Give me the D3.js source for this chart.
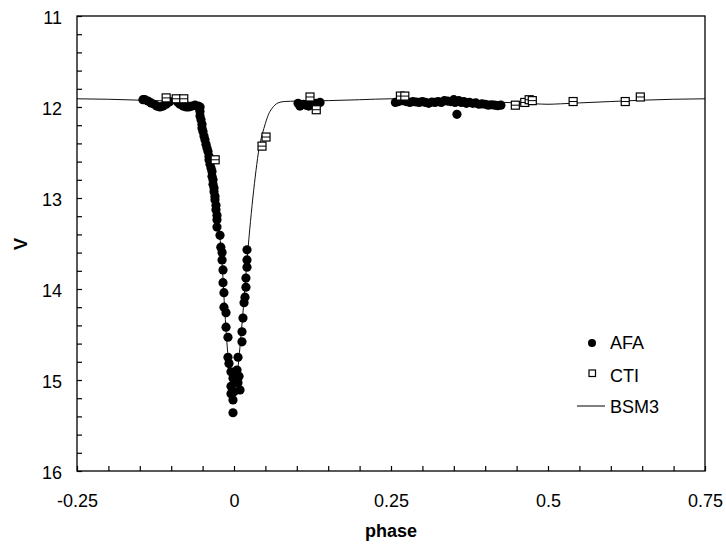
<!DOCTYPE html>
<html>
<head>
<meta charset="utf-8">
<script src="https://cdn.jsdelivr.net/npm/d3@7"></script>
<style>
  html, body { margin: 0; padding: 0; background: #fff; }
  svg { display: block; font-family: Arial, "Liberation Sans", sans-serif; }
</style>
</head>
<body>
<svg id="chart" width="726" height="546"></svg>
<script>
// ---------------- DATA ----------------
const xTickLabels = ["-0.25", "0", "0.25", "0.5", "0.75"];
const xTickValues = [-0.25, 0, 0.25, 0.5, 0.75];
const yTickValues = [11, 12, 13, 14, 15, 16];

// AFA photometry (filled circles)
const afaPhase = [
  -0.145, -0.142, -0.137, -0.132, -0.127, -0.123, -0.118, -0.113, -0.108, -0.105, -0.102,
  -0.089, -0.086, -0.081, -0.076, -0.072, -0.067, -0.062, -0.057, -0.054,
  -0.0557, -0.0541, -0.0541, -0.0525, -0.051, -0.051, -0.0494, -0.0478, -0.0462, -0.0446,
  -0.043, -0.0414, -0.0398, -0.0398, -0.0382, -0.0366, -0.035, -0.035, -0.0334, -0.0334,
  -0.0318, -0.0318, -0.0303, -0.0303, -0.0287, -0.0287, -0.0271, -0.0271, -0.0271,
  -0.0223, -0.021, -0.019, -0.019, -0.0175, -0.0175, -0.016, -0.016, -0.0127, -0.0127,
  -0.0096, -0.0096,
  -0.008, -0.0048, -0.0016, 0.0016, -0.0048, 0.0032, 0.0064, 0.0, -0.0048, -0.0016, 0.008, 0.0096, -0.0016,
  0.0207, 0.0207, 0.0207, 0.019, 0.019, 0.0175, 0.016, 0.0143, 0.0127, 0.0127, 0.0064, 0.0048,
  0.102, 0.105, 0.110, 0.115, 0.119, 0.124, 0.131, 0.137,
  0.257, 0.262, 0.268, 0.274, 0.280, 0.285, 0.290, 0.295, 0.300, 0.305, 0.310, 0.315, 0.320,
  0.325, 0.330, 0.335, 0.340, 0.345, 0.350, 0.352, 0.355, 0.358, 0.362, 0.366, 0.370, 0.375,
  0.380, 0.385, 0.390, 0.395, 0.400, 0.405, 0.410, 0.415, 0.420, 0.425
];
const afaV = [
  11.92, 11.92, 11.935, 11.955, 11.97, 11.99, 12.0, 11.99, 11.97, 11.95, 11.94,
  11.95, 11.97, 11.99, 12.0, 12.0, 11.99, 11.98, 11.99, 12.0,
  12.01, 12.05, 12.10, 12.14, 12.19, 12.23, 12.27, 12.32, 12.36, 12.41,
  12.45, 12.49, 12.54, 12.58, 12.63, 12.67, 12.71, 12.76, 12.80, 12.85,
  12.89, 12.93, 12.98, 13.02, 13.08, 13.13, 13.19, 13.24, 13.32,
  13.41, 13.54, 13.60, 13.68, 13.79, 13.93, 14.04, 14.20, 14.26, 14.42,
  14.53, 14.75,
  14.82, 14.91, 14.98, 14.95, 15.07, 15.0, 15.03, 15.13, 15.15, 15.22, 14.96, 15.11, 15.36,
  13.57, 13.68, 13.76, 13.88, 13.98, 14.09, 14.15, 14.32, 14.47, 14.58, 14.75, 14.89,
  11.96, 11.99, 11.97, 11.98, 11.99, 11.97, 11.96, 11.95,
  11.95, 11.94, 11.93, 11.94, 11.95, 11.94, 11.945, 11.95, 11.94, 11.95, 11.96, 11.945, 11.95,
  11.94, 11.95, 11.93, 11.935, 11.94, 11.92, 11.95, 12.08, 11.93, 11.95, 11.94, 11.96, 11.95,
  11.96, 11.955, 11.97, 11.965, 11.97, 11.98, 11.975, 11.98, 11.985, 11.98
];

// CTI photometry (open squares)
const ctiPhase = [-0.108, -0.092, -0.080, -0.030, 0.0446, 0.051, 0.121, 0.131, 0.265, 0.272,
                  0.448, 0.463, 0.470, 0.475, 0.540, 0.623, 0.647];
const ctiV = [11.90, 11.91, 11.91, 12.58, 12.43, 12.33, 11.89, 12.03, 11.88, 11.88,
              11.98, 11.95, 11.92, 11.93, 11.94, 11.94, 11.89];

// BSM3 model light curve
const modelPhase = [-0.25, -0.2, -0.15, -0.1, -0.08, -0.07, -0.062, -0.058, -0.055, -0.05,
  -0.045, -0.04, -0.035, -0.03, -0.025, -0.02, -0.015, -0.01, -0.005, 0.0,
  0.005, 0.01, 0.015, 0.02, 0.025, 0.03, 0.035, 0.04, 0.045, 0.05, 0.055, 0.06, 0.065,
  0.07, 0.08, 0.1, 0.15, 0.2, 0.25, 0.3, 0.35, 0.4, 0.45, 0.48, 0.5, 0.52, 0.55, 0.6,
  0.65, 0.7, 0.75];
const modelV = [11.91, 11.915, 11.925, 11.935, 11.94, 11.95, 11.97, 12.0, 12.05, 12.18,
  12.38, 12.54, 12.72, 12.98, 13.3, 13.6, 14.2, 14.7, 15.0, 15.15,
  14.95, 14.6, 14.2, 13.75, 13.35, 13.0, 12.7, 12.45, 12.3, 12.18, 12.08, 12.02, 11.98,
  11.955, 11.94, 11.935, 11.93, 11.92, 11.91, 11.92, 11.93, 11.94, 11.955, 11.965, 11.97,
  11.965, 11.955, 11.94, 11.925, 11.915, 11.91];

// ---------------- CHART ----------------
const svg = d3.select("#chart");
const L = 77, R = 705, T = 16, B = 471;
const x = d3.scaleLinear().domain([-0.25, 0.75]).range([L, R]);
const y = d3.scaleLinear().domain([11, 16]).range([T, B]);

const plot = svg.append("g");

// model line
const line = d3.line().x(d => x(d[0])).y(d => y(d[1])).curve(d3.curveMonotoneX);
plot.append("path")
  .datum(modelPhase.map((p, i) => [p, modelV[i]]))
  .attr("d", line)
  .attr("fill", "none")
  .attr("stroke", "#111")
  .attr("stroke-width", 1);

// AFA circles
plot.selectAll("circle.afa")
  .data(afaPhase.map((p, i) => [p, afaV[i]]))
  .enter().append("circle")
  .attr("class", "afa")
  .attr("cx", d => x(d[0]))
  .attr("cy", d => y(d[1]))
  .attr("r", 4.6)
  .attr("fill", "#000");

// CTI squares
const sq = 8;
const ctiG = plot.selectAll("g.cti")
  .data(ctiPhase.map((p, i) => [p, ctiV[i]]))
  .enter().append("g")
  .attr("class", "cti")
  .attr("transform", d => `translate(${x(d[0])},${y(d[1])})`);
ctiG.append("rect")
  .attr("x", -sq / 2).attr("y", -sq / 2)
  .attr("width", sq).attr("height", sq)
  .attr("fill", "#fff").attr("stroke", "#000").attr("stroke-width", 1.2);
ctiG.append("line")
  .attr("x1", -sq / 2).attr("x2", sq / 2).attr("y1", 0).attr("y2", 0)
  .attr("stroke", "#000").attr("stroke-width", 1);

// frame
svg.append("rect")
  .attr("x", L).attr("y", T).attr("width", R - L).attr("height", B - T)
  .attr("fill", "none").attr("stroke", "#000").attr("stroke-width", 1.3);

// x axis
const xMinor = d3.range(-0.25, 0.7501, 0.05).map(v => +v.toFixed(2));
const xAxis = d3.axisBottom(x)
  .tickValues(xMinor)
  .tickSizeInner(-5).tickSizeOuter(0).tickPadding(23)
  .tickFormat(v => {
    const i = xTickValues.findIndex(t => Math.abs(t - v) < 1e-9);
    return i >= 0 ? xTickLabels[i] : "";
  });
const gx = svg.append("g").attr("transform", `translate(0,${B})`).call(xAxis);
gx.select(".domain").remove();
gx.selectAll(".tick line").attr("stroke", "#000").attr("stroke-width", 1.2);
gx.selectAll(".tick text").attr("font-size", 18).attr("fill", "#000")
  .attr("font-family", "Arial, 'Liberation Sans', sans-serif");

// y axis
const yMinor = d3.range(11, 16.0001, 0.2).map(v => +v.toFixed(1));
const yAxis = d3.axisLeft(y)
  .tickValues(yMinor)
  .tickSizeInner(-5).tickSizeOuter(0).tickPadding(15)
  .tickFormat(v => yTickValues.some(t => Math.abs(t - v) < 1e-9) ? String(v) : "");
const gy = svg.append("g").attr("transform", `translate(${L},0)`).call(yAxis);
gy.select(".domain").remove();
gy.selectAll(".tick line").attr("stroke", "#000").attr("stroke-width", 1.2);
gy.selectAll(".tick text").attr("font-size", 18).attr("fill", "#000").attr("dy", "0.4em")
  .attr("font-family", "Arial, 'Liberation Sans', sans-serif");

// axis titles
svg.append("text")
  .attr("x", (L + R) / 2).attr("y", 537)
  .attr("text-anchor", "middle")
  .attr("font-size", 18).attr("font-weight", "bold")
  .text("phase");
svg.append("text")
  .attr("transform", "translate(27,244) rotate(-90)")
  .attr("text-anchor", "middle")
  .attr("font-size", 18).attr("font-weight", "bold")
  .text("V");

// legend
const lg = svg.append("g");
lg.append("circle").attr("cx", 592).attr("cy", 343).attr("r", 4).attr("fill", "#000");
lg.append("text").attr("x", 610).attr("y", 349).attr("font-size", 18).text("AFA");
lg.append("rect").attr("x", 589).attr("y", 370).attr("width", 6.5).attr("height", 6.5)
  .attr("fill", "#fff").attr("stroke", "#000").attr("stroke-width", 1.2);
lg.append("text").attr("x", 610).attr("y", 382).attr("font-size", 18).text("CTI");
lg.append("line").attr("x1", 577).attr("x2", 605).attr("y1", 406).attr("y2", 406)
  .attr("stroke", "#000").attr("stroke-width", 1);
lg.append("text").attr("x", 610).attr("y", 413).attr("font-size", 18).text("BSM3");
</script>
</body>
</html>
